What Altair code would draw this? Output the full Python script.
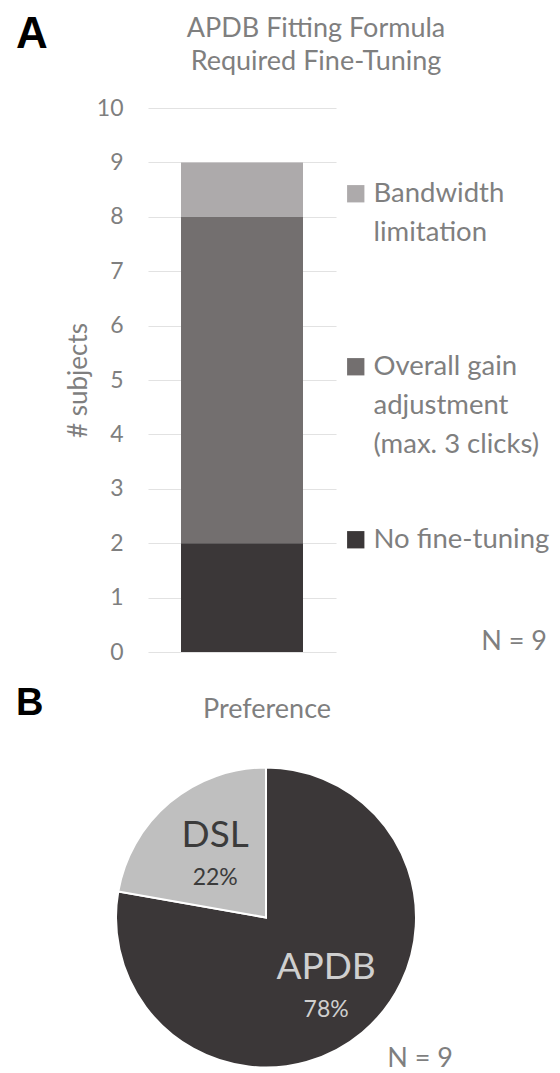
import altair as alt
import pandas as pd

# ---------------- Panel A data ----------------
title_a_lines = ["APDB Fitting Formula", "Required Fine-Tuning"]
tuning_categories = ["Bandwidth limitation", "Overall gain adjustment (max. 3 clicks)", "No fine-tuning"]
tuning_counts = [1, 6, 2]
tuning_stack_order = [3, 2, 1]          # 1 = bottom of the stack
tuning_colors = ["#adaaab", "#736f6f", "#3b3738"]
legend_lines = {
    "Bandwidth limitation": ["Bandwidth", "limitation", ""],
    "Overall gain adjustment (max. 3 clicks)": ["Overall gain", "adjustment", "(max. 3 clicks)"],
    "No fine-tuning": ["No fine-tuning", "", ""],
}
y_ticks = [0, 1, 2, 3, 4, 5, 6, 7, 8, 9, 10]
n_subjects_a = 9

# ---------------- Panel B data ----------------
title_b = "Preference"
pref_categories = ["APDB", "DSL"]
pref_counts = [7, 2]
pref_order = [1, 2]
pref_colors = ["#3b3738", "#bfbfbf"]
pref_text_colors = ["#cfcfcf", "#3b3b3b"]
n_subjects_b = 9

GRAY = "#7f7f7f"
FONT = "Lato"

# ---------------- Panel A ----------------
dfA = pd.DataFrame({
    "cat": tuning_categories,
    "count": tuning_counts,
    "ord": tuning_stack_order,
    "grp": ["APDB"] * len(tuning_categories),
})

def js_list(lst):
    return "[" + ",".join("'" + s.replace("'", "\\'") + "'" for s in lst) + "]"

label_expr = ""
for cat, lines in legend_lines.items():
    label_expr += f"datum.label == '{cat}' ? {js_list(lines)} : "
label_expr += "datum.label"

bars = alt.Chart(dfA).mark_bar(size=122).encode(
    x=alt.X("grp:N", axis=None, title=None),
    y=alt.Y(
        "count:Q",
        stack="zero",
        scale=alt.Scale(domain=[0, 10], nice=False),
        axis=alt.Axis(
            values=y_ticks,
            title="# subjects",
            titleFont=FONT,
            titleFontSize=26,
            titleFontWeight="normal",
            titleColor=GRAY,
            titlePadding=5,
            labelFont=FONT,
            labelFontSize=23,
            labelColor=GRAY,
            labelPadding=25,
            ticks=False,
            domain=False,
            grid=True,
            gridColor="#e2e2e2",
            gridWidth=1.2,
        ),
    ),
    color=alt.Color(
        "cat:N",
        sort=tuning_categories,
        scale=alt.Scale(domain=tuning_categories, range=tuning_colors),
        legend=alt.Legend(
            title=None,
            orient="none",
            legendX=194,
            legendY=72,
            padding=0,
            symbolType="square",
            symbolSize=300,
            symbolStrokeWidth=0,
            symbolOpacity=1,
            labelFont=FONT,
            labelFontSize=27.5,
            labelColor=GRAY,
            labelLimit=300,
            labelOffset=4,
            labelBaseline="middle",
            rowPadding=66,
            labelExpr=label_expr,
        ),
    ),
    order=alt.Order("ord:Q", sort="ascending"),
)

title_a1 = alt.Chart(pd.DataFrame({"t": [title_a_lines[0]]})).mark_text(
    align="center", baseline="alphabetic", font=FONT, fontSize=27, color=GRAY,
).encode(text="t:N", x=alt.value(168), y=alt.value(-71))

title_a2 = alt.Chart(pd.DataFrame({"t": [title_a_lines[1]]})).mark_text(
    align="center", baseline="alphabetic", font=FONT, fontSize=27, color=GRAY,
).encode(text="t:N", x=alt.value(168), y=alt.value(-38))

letter_a = alt.Chart(pd.DataFrame({"t": ["A"]})).mark_text(
    align="left", baseline="alphabetic", font="Liberation Sans",
    fontSize=44, fontWeight="bold", color="#000000",
).encode(text="t:N", x=alt.value(-132), y=alt.value(-60))

n_a = alt.Chart(pd.DataFrame({"t": [f"N = {n_subjects_a}"]})).mark_text(
    align="right", baseline="alphabetic", font=FONT, fontSize=27, color=GRAY,
).encode(text="t:N", x=alt.value(399), y=alt.value(542))

top = alt.layer(bars, title_a1, title_a2, letter_a, n_a).properties(width=188, height=544)

# ---------------- Panel B ----------------
dfB = pd.DataFrame({"pcat": pref_categories, "pcount": pref_counts, "pord": pref_order})

CX, CY = 118, 177.5
base = alt.Chart(dfB).transform_joinaggregate(
    total="sum(pcount)"
).transform_calculate(
    pct="format(datum.pcount / datum.total, '.0%')"
).encode(
    theta=alt.Theta("pcount:Q", stack=True),
    order=alt.Order("pord:Q", sort="ascending"),
    x=alt.value(CX),
    y=alt.value(CY),
)

arcs = base.mark_arc(radius=150, stroke="#ffffff", strokeWidth=2).encode(
    color=alt.Color(
        "pcat:N",
        scale=alt.Scale(domain=pref_categories, range=pref_colors),
        legend=None,
    )
)

label_radii = [93.5, 79]
layers_b = [arcs]
for cat, r, col in zip(pref_categories, label_radii, pref_text_colors):
    name_layer = base.transform_calculate(
        nm=f"datum.pcat == '{cat}' ? datum.pcat : ''"
    ).mark_text(radius=r, dy=-21, baseline="middle", align="center",
                font=FONT, fontSize=37, color=col).encode(text="nm:N")
    pct_layer = base.transform_calculate(
        pp=f"datum.pcat == '{cat}' ? datum.pct : ''"
    ).mark_text(radius=r, dy=21, baseline="middle", align="center",
                font=FONT, fontSize=23, color=col).encode(text="pp:N")
    layers_b += [name_layer, pct_layer]

title_b_mark = alt.Chart(pd.DataFrame({"t": [title_b]})).mark_text(
    align="center", baseline="alphabetic", font=FONT, fontSize=27, color=GRAY,
).encode(text="t:N", x=alt.value(119), y=alt.value(-22))

letter_b = alt.Chart(pd.DataFrame({"t": ["B"]})).mark_text(
    align="left", baseline="alphabetic", font="Liberation Sans",
    fontSize=38, fontWeight="bold", color="#000000",
).encode(text="t:N", x=alt.value(-132), y=alt.value(-25))

n_b = alt.Chart(pd.DataFrame({"t": [f"N = {n_subjects_b}"]})).mark_text(
    align="right", baseline="alphabetic", font=FONT, fontSize=27, color=GRAY,
).encode(text="t:N", x=alt.value(305), y=alt.value(327))

bottom = alt.layer(*layers_b, title_b_mark, letter_b, n_b).properties(width=238, height=330)

chart = alt.vconcat(top, bottom, spacing=21).resolve_scale(
    color="independent"
).resolve_legend(
    color="independent"
).properties(
    padding={"left": 8, "top": 5, "right": 0, "bottom": 0},
).configure(
    style={"guide-label": {"lineHeight": 39}}
).configure_view(stroke="transparent", strokeWidth=0)

chart.save("out.html", embed_options={"renderer": "svg", "actions": False})
